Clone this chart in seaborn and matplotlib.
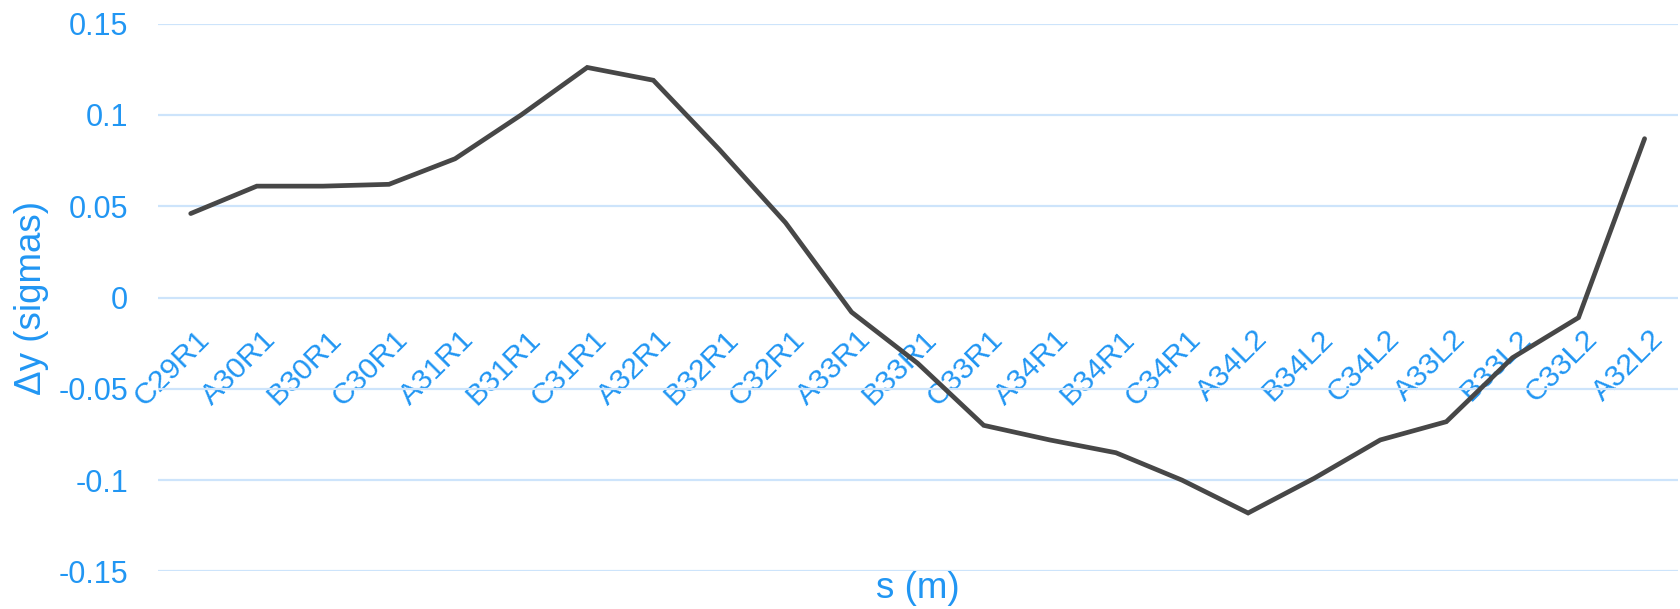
import matplotlib
matplotlib.use("Agg")
import matplotlib.pyplot as plt
import matplotlib.transforms as mtransforms
from matplotlib.ticker import FuncFormatter
import seaborn as sns
import pandas as pd

# Magnet names along the beamline and the vertical offset at each
magnets = ["C29R1", "A30R1", "B30R1", "C30R1", "A31R1", "B31R1", "C31R1",
           "A32R1", "B32R1", "C32R1", "A33R1", "B33R1", "C33R1", "A34R1",
           "B34R1", "C34R1", "A34L2", "B34L2", "C34L2", "A33L2", "B33L2",
           "C33L2", "A32L2"]
dy_sigmas = [0.046, 0.061, 0.061, 0.062, 0.076, 0.100, 0.126,
             0.119, 0.081, 0.041, -0.008, -0.036, -0.070, -0.078,
             -0.085, -0.100, -0.118, -0.099, -0.078, -0.068, -0.033,
             -0.011, 0.087]

y_ticks = [-0.15, -0.1, -0.05, 0, 0.05, 0.1, 0.15]

TEXT = "#2196f3"
GRID = "#cde4fb"
LINE = "#474747"

sns.set_theme(style="white")
plt.rcParams["font.family"] = ["Liberation Sans", "DejaVu Sans"]

df = pd.DataFrame({"magnet": magnets, "dy": dy_sigmas})

fig = plt.figure(figsize=(16.81, 6.09), dpi=100)
ax = fig.add_axes([0.0938, 0.0617, 0.9042, 0.8995])

sns.lineplot(data=df, x="magnet", y="dy", sort=False, color=LINE,
             linewidth=3.4, ax=ax, solid_capstyle="round",
             solid_joinstyle="miter")

ax.set_xlim(-0.5, len(magnets) - 0.5)
ax.set_ylim(min(y_ticks), max(y_ticks))
ax.set_yticks(y_ticks)
ax.yaxis.set_major_formatter(FuncFormatter(lambda v, _: f"{v:g}"))
ax.grid(axis="y", color=GRID, linewidth=1.6)
ax.grid(axis="x", visible=False)
ax.set_axisbelow(True)

for side in ["top", "right", "left", "bottom"]:
    ax.spines[side].set_visible(False)
# category labels sit on the zero line
ax.spines["bottom"].set_position(("data", 0))

ax.tick_params(axis="y", length=0, pad=21.3, labelcolor=TEXT, labelsize=22)
ax.tick_params(axis="x", length=0, pad=19.6, labelcolor=TEXT)

ax.set_xticks(range(len(magnets)))
ax.set_xticklabels(magnets, fontsize=21.8, rotation=45, ha="right", va="top",
                   rotation_mode="anchor", color=TEXT)
shift = mtransforms.ScaledTranslation(4.8 / 100, 0, fig.dpi_scale_trans)
for lab in ax.get_xticklabels():
    lab.set_transform(lab.get_transform() + shift)

ax.set_xlabel("s (m)", color=TEXT, fontsize=26.5)
ax.set_ylabel("\u0394y (sigmas)", color=TEXT, fontsize=26.5)
ax.xaxis.label.set_va("center")
ax.yaxis.label.set_va("center")
ax.xaxis.set_label_coords(0.5, -0.0312)
ax.yaxis.set_label_coords(-0.0829, 0.5)

fig.savefig("out.png", dpi=100, facecolor="white")
